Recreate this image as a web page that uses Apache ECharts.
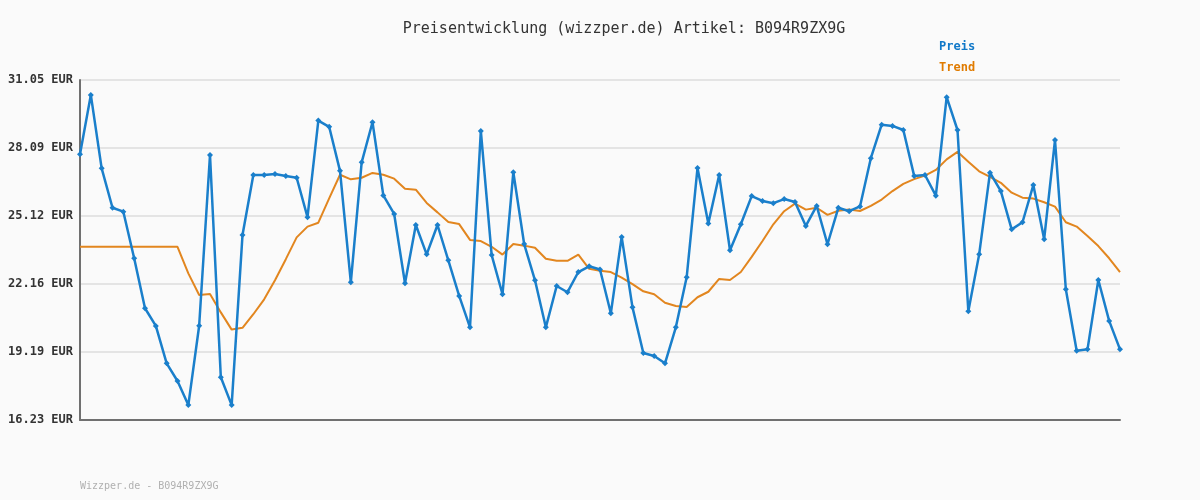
<!DOCTYPE html>
<html>
<head>
<meta charset="utf-8">
<script src="https://cdn.jsdelivr.net/npm/echarts@6/dist/echarts.min.js"></script>
<style>
  html, body { margin: 0; padding: 0; background: #fafafa; }
  #chart { width: 1200px; height: 500px; }
</style>
</head>
<body>
<div id="chart"></div>
<script>
const yTicks = [16.23, 19.19, 22.16, 25.12, 28.09, 31.05];

const preis = [
  27.81, 30.40, 27.20, 25.48, 25.31, 23.28, 21.10, 20.33, 18.70, 17.93,
  16.88, 20.34, 27.78, 18.09, 16.88, 24.29, 26.91, 26.91, 26.95, 26.87,
  26.79, 25.07, 29.28, 29.01, 27.09, 22.23, 27.46, 29.21, 26.02, 25.21,
  22.19, 24.73, 23.45, 24.73, 23.19, 21.64, 20.27, 28.83, 23.42, 21.71,
  27.03, 23.90, 22.32, 20.27, 22.07, 21.80, 22.68, 22.93, 22.79, 20.88,
  24.21, 21.14, 19.15, 19.02, 18.70, 20.27, 22.45, 27.21, 24.80, 26.91,
  23.63, 24.76, 25.99, 25.78, 25.68, 25.86, 25.73, 24.69, 25.56, 23.89,
  25.48, 25.33, 25.54, 27.64, 29.10, 29.05, 28.87, 26.87, 26.91, 26.01,
  30.30, 28.87, 20.97, 23.45, 27.01, 26.21, 24.54, 24.85, 26.47, 24.11,
  28.43, 21.93, 19.25, 19.31, 22.33, 20.55, 19.31
];

const trend = [
  23.78, 23.78, 23.78, 23.78, 23.78, 23.78, 23.78, 23.78, 23.78, 23.78,
  22.62, 21.68, 21.72, 20.92, 20.17, 20.25, 20.84, 21.49, 22.32, 23.24,
  24.19, 24.66, 24.83, 25.89, 26.92, 26.72, 26.79, 27.00, 26.92, 26.75,
  26.31, 26.27, 25.69, 25.28, 24.86, 24.77, 24.08, 24.03, 23.78, 23.44,
  23.90, 23.83, 23.74, 23.26, 23.17, 23.17, 23.44, 22.82, 22.74, 22.68,
  22.44, 22.15, 21.84, 21.71, 21.34, 21.20, 21.16, 21.58, 21.82, 22.38,
  22.33, 22.68, 23.34, 24.03, 24.76, 25.33, 25.66, 25.40, 25.48, 25.17,
  25.35, 25.41, 25.34, 25.56, 25.84, 26.21, 26.52, 26.73, 26.88, 27.13,
  27.59, 27.92, 27.49, 27.07, 26.83, 26.57, 26.14, 25.92, 25.88, 25.72,
  25.53, 24.85, 24.66, 24.25, 23.81, 23.28, 22.68
];

const categories = preis.map((_, i) => i + 1);

const MONO = "'DejaVu Sans Mono', 'Liberation Mono', monospace";
const BLUE = "#1a7fcb";
const ORANGE = "#e2861f";

const yMin = yTicks[0];
const yMax = yTicks[yTicks.length - 1];
const yStep = (yMax - yMin) / (yTicks.length - 1);

const chart = echarts.init(document.getElementById("chart"), null, { renderer: "canvas" });

chart.setOption({
  backgroundColor: "#fafafa",
  animation: false,
  title: {
    text: "Preisentwicklung (wizzper.de) Artikel: B094R9ZX9G",
    left: 619,
    top: 17,
    textAlign: "center",
    textStyle: { fontFamily: MONO, fontSize: 15, fontWeight: "normal", color: "#333" },
  },
  legend: {
    orient: "vertical",
    left: 929,
    top: 35,
    icon: "none",
    itemWidth: 0,
    itemGap: 8,
    selectedMode: false,
    data: [
      { name: "Preis", textStyle: { color: "#1078c8" } },
      { name: "Trend", textStyle: { color: "#e07b00" } },
    ],
    textStyle: { fontFamily: MONO, fontSize: 12, fontWeight: "bold" },
  },
  graphic: [
    {
      type: "text",
      left: 80,
      top: 481,
      style: { text: "Wizzper.de - B094R9ZX9G", fill: "#b0b0b0", font: "10px " + MONO },
    },
  ],
  grid: { left: 80, right: 80, top: 80, bottom: 80 },
  xAxis: {
    type: "category",
    data: categories,
    boundaryGap: false,
    axisLine: { lineStyle: { color: "#707070", width: 2 } },
    axisTick: { show: false },
    axisLabel: { show: false },
    splitLine: { show: false },
  },
  yAxis: {
    type: "value",
    min: yMin,
    max: yMax,
    interval: yStep,
    axisLine: { show: true, lineStyle: { color: "#707070", width: 2 } },
    axisTick: { show: false },
    axisLabel: {
      margin: 7,
      fontFamily: MONO,
      fontSize: 12,
      fontWeight: "bold",
      color: "#333",
      formatter: (v) => v.toFixed(2) + " EUR",
    },
    splitLine: { lineStyle: { color: "#e4e4e4", width: 2 } },
  },
  series: [
    {
      name: "Preis",
      type: "line",
      data: preis,
      z: 3,
      symbol: "diamond",
      symbolSize: 6,
      showAllSymbol: true,
      itemStyle: { color: BLUE },
      lineStyle: { color: BLUE, width: 2.5 },
    },
    {
      name: "Trend",
      type: "line",
      data: trend,
      z: 2,
      symbol: "none",
      itemStyle: { color: ORANGE },
      lineStyle: { color: ORANGE, width: 2 },
    },
  ],
});
</script>
</body>
</html>
